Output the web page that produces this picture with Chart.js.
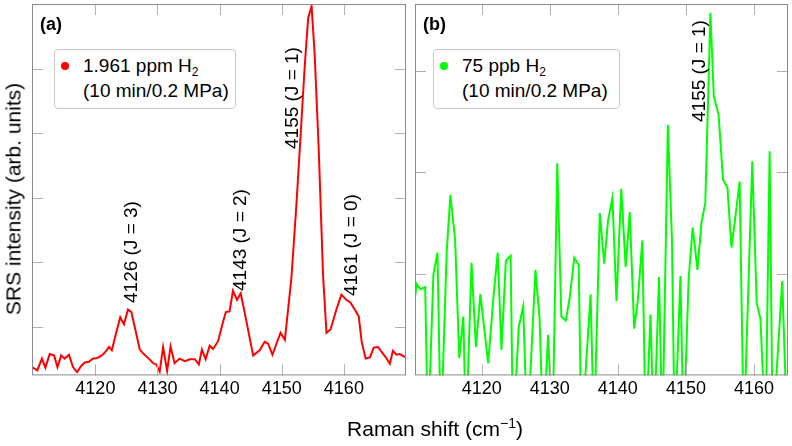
<!DOCTYPE html>
<html>
<head>
<meta charset="utf-8">
<script src="https://cdn.jsdelivr.net/npm/chart.js@4.4.0/dist/chart.umd.min.js"></script>
<style>
body{margin:0;background:#fff;font-family:"Liberation Sans",Arial,sans-serif;}
#wrap{position:relative;width:792px;height:446px;overflow:hidden;background:#fff}
#chartA{position:absolute;left:0;top:0}
#chartB{position:absolute;left:410px;top:0}
.txt{position:absolute;white-space:nowrap;color:#000;line-height:1}
.leyenda{position:absolute;border:1px solid #c8c8c8;border-radius:4px;background:#fff;box-sizing:border-box}
.punto{position:absolute;width:8px;height:8px;border-radius:50%}
.rot{position:absolute;white-space:nowrap;font-size:19px;line-height:20px;transform-origin:0 0;transform:rotate(-90deg) translate(0,-50%)}
sub{font-size:12px;vertical-align:-4px;line-height:0}
sup{font-size:14px;vertical-align:8px;line-height:0}
</style>
</head>
<body>
<div id="wrap">
  <canvas id="chartA" width="410" height="446"></canvas>
  <canvas id="chartB" width="382" height="446"></canvas>

  <div class="txt" style="left:40px;top:15px;font-size:18px;font-weight:bold">(a)</div>
  <div class="txt" style="left:423px;top:15px;font-size:18px;font-weight:bold">(b)</div>

  <div class="leyenda" style="left:54px;top:49px;width:182px;height:60px"></div>
  <div class="punto" style="left:61px;top:62px;background:#ff0000"></div>
  <div class="txt" style="left:83px;top:56px;font-size:19px">1.961 ppm H<sub>2</sub></div>
  <div class="txt" style="left:83px;top:81px;font-size:19px">(10 min/0.2 MPa)</div>

  <div class="leyenda" style="left:433px;top:49px;width:187px;height:60px"></div>
  <div class="punto" style="left:440px;top:62px;background:#00ff00"></div>
  <div class="txt" style="left:462px;top:56px;font-size:19px">75 ppb H<sub>2</sub></div>
  <div class="txt" style="left:462px;top:81px;font-size:19px">(10 min/0.2 MPa)</div>

  <div class="txt" style="left:13px;top:199px;font-size:21px;transform:translate(-50%,-50%) rotate(-90deg)">SRS intensity (arb. units)</div>
  <div class="txt" style="left:435px;top:428px;font-size:21px;transform:translate(-50%,-50%)">Raman shift (cm<sup>−1</sup>)</div>
</div>

<script>
// Marcas del eje x (ambos paneles)
const ticksRaman = [4120, 4130, 4140, 4150, 4160]

// Datos panel (a): 1.961 ppm H2
const ramanA = [4109.8, 4110.66, 4111.4, 4111.95, 4112.65, 4113.35, 4113.9, 4114.5, 4115.05, 4115.75,
  4116.4, 4117.05, 4117.75, 4118.3, 4118.95, 4119.6, 4120.3, 4121.05, 4121.75, 4122.2,
  4122.65, 4123.4, 4124.0, 4124.6, 4125.25, 4125.8, 4126.5, 4127.15, 4127.8, 4128.6,
  4129.3, 4129.8, 4130.35, 4130.9, 4131.55, 4132.1, 4132.75, 4133.55, 4134.4, 4135.2,
  4136.0, 4136.65, 4137.15, 4137.75, 4138.4, 4138.95, 4139.75, 4140.45, 4141.0, 4141.6,
  4142.15, 4142.8, 4143.4, 4144.2, 4145.4, 4146.45, 4147.25, 4147.8, 4148.5, 4149.8,
  4150.5, 4151.55, 4152.35, 4153.0, 4153.7, 4154.25, 4154.8, 4155.3, 4155.95, 4156.65,
  4157.2, 4157.85, 4158.8, 4159.6, 4160.4, 4161.05, 4161.75, 4162.4, 4162.85, 4163.5,
  4164.2, 4164.8, 4165.5, 4166.2, 4166.75, 4167.4, 4167.9, 4168.45, 4169.0, 4169.55, 4170.0]
const intensidadA = [-0.62, -0.67, -0.49, -0.63, -0.42, -0.44, -0.62, -0.44, -0.49, -0.43,
  -0.62, -0.70, -0.60, -0.55, -0.54, -0.49, -0.48, -0.44, -0.37, -0.31,
  -0.36, -0.07, 0.15, 0.04, 0.27, 0.23, -0.07, -0.35, -0.42, -0.49,
  -0.56, -0.58, -0.69, -0.31, -0.68, -0.30, -0.56, -0.49, -0.53, -0.50,
  -0.50, -0.58, -0.35, -0.50, -0.29, -0.34, -0.22, 0.04, 0.23, 0.24,
  0.56, 0.42, 0.52, 0.14, -0.44, -0.36, -0.23, -0.26, -0.43, -0.09,
  -0.20, 0.75, 1.88, 2.91, 4.04, 4.78, 4.97, 4.22, 2.75, 0.80,
  -0.09, -0.04, 0.27, 0.50, 0.42, 0.38, 0.27, 0.16, -0.22, -0.49,
  -0.47, -0.32, -0.31, -0.40, -0.47, -0.57, -0.37, -0.43, -0.42, -0.45, -0.47]

// Datos panel (b): 75 ppb H2
const ramanB = [4110.1, 4110.45, 4111.0, 4111.7, 4112.1, 4112.9, 4113.5, 4114.0, 4114.85, 4115.4,
  4116.1, 4116.7, 4117.3, 4117.7, 4118.5, 4119.15, 4119.8, 4120.95, 4121.7, 4122.35,
  4122.9, 4123.55, 4124.25, 4124.6, 4125.45, 4126.1, 4126.7, 4127.9, 4128.5, 4129.05,
  4129.75, 4130.4, 4131.1, 4131.7, 4132.35, 4132.9, 4133.6, 4134.25, 4134.65, 4136.0,
  4136.5, 4137.35, 4138.0, 4138.55, 4139.2, 4139.8, 4140.5, 4141.15, 4141.75, 4142.4,
  4142.95, 4143.6, 4144.1, 4144.8, 4145.3, 4146.05, 4146.55, 4147.35, 4147.95, 4148.35,
  4149.2, 4149.65, 4150.4, 4151.0, 4151.7, 4152.3, 4152.85, 4153.6, 4154.1, 4154.8,
  4155.45, 4156.1, 4156.7, 4157.3, 4157.9, 4158.5, 4159.75, 4160.4, 4160.95, 4161.7,
  4162.3, 4162.75, 4164.15, 4164.9]
const intensidadB = [0.72, 0.90, 0.85, 0.87, -0.6, 0.99, 1.21, -0.6, 1.21, 1.78,
  1.33, 0.17, 0.58, -0.6, 1.11, 0.28, 0.80, 0.12, 0.75, 1.21,
  0.25, 1.13, 1.18, -0.6, 0.48, 0.68, -0.6, 1.04, 0.56, -0.6,
  0.40, -0.6, 2.09, 0.58, 0.54, 0.75, 1.16, 1.09, -0.6, 0.80,
  -0.6, 1.60, 1.10, 1.52, 1.75, 0.73, 1.84, 1.07, 1.61, 0.46,
  0.75, 1.33, -0.6, 0.60, -0.6, 0.97, -0.6, 2.47, 1.34, -0.6,
  0.98, -0.6, 0.95, 1.46, 1.04, 1.51, 1.70, 3.57, 2.75, 2.57,
  1.93, 1.85, 1.26, 1.58, 1.91, -0.6, 2.11, 0.71, 0.56, -0.6,
  2.21, -0.6, 0.93, -0.6]

// Etiquetas de picos (texto, posicion x, inicio en y)
const picosA = ['4126 (J = 3)', '4143 (J = 2)', '4155 (J = 1)', '4161 (J = 0)']
const picosAx = [4125.8, 4143.2, 4151.6, 4161.1]
const picosAy = [0.37, 0.55, 2.75, 0.48]
const picosB = ['4155 (J = 1)']
const picosBx = [4151.9]
const picosBy = [2.5]

// Marco y ticks interiores
const marco = {
    id: 'marco',
    afterDatasetsDraw(chart) {
        const ctx = chart.ctx
        const a = chart.chartArea
        const sx = chart.scales.x
        const sy = chart.scales.y
        ctx.save()
        ctx.strokeStyle = '#b0b0b0'
        ctx.lineWidth = 1
        const linea = (x1, y1, x2, y2) => {
            ctx.beginPath(); ctx.moveTo(x1, y1); ctx.lineTo(x2, y2); ctx.stroke()
        }
        for (let v = Math.ceil(sx.min / 10) * 10; v <= sx.max; v += 10) {
            const px = Math.round(sx.getPixelForValue(v)) + 0.5
            if (px - a.left < 4 || a.right - px < 4) continue
            linea(px, a.bottom, px, a.bottom - 11)
            linea(px, a.top, px, a.top + 11)
        }
        for (let v = Math.ceil(sy.min); v <= sy.max; v++) {
            const py = Math.round(sy.getPixelForValue(v)) + 0.5
            if (py - a.top < 4 || a.bottom - py < 4) continue
            linea(a.left, py, a.left + 11, py)
            linea(a.right, py, a.right - 11, py)
        }
        ctx.strokeStyle = '#8a8a8a'
        ctx.strokeRect(a.left + 0.5, a.top + 0.5, a.width - 1, a.height - 1)
        ctx.restore()
    }
}

function crearPanel(id, xs, ys, color, etiqueta, xmin, xmax, ymin, ymax, padIzq) {
    const ctx = document.getElementById(id).getContext('2d')
    return new Chart(ctx, {
        type: 'line',
        data: {
            datasets: [{
                label: etiqueta,
                data: xs.map((x, i) => ({x: x, y: ys[i]})),
                borderColor: color,
                backgroundColor: color,
                borderWidth: 2,
                pointRadius: 0,
                tension: 0,
                clip: 0
            }]
        },
        options: {
            responsive: false,
            animation: false,
            layout: { padding: { left: padIzq, right: 4, top: 4, bottom: 43 } },
            plugins: { legend: { display: false }, tooltip: { enabled: false } },
            scales: {
                x: {
                    type: 'linear',
                    min: xmin,
                    max: xmax,
                    grid: { display: false, drawTicks: false },
                    border: { display: false },
                    afterBuildTicks: scale => {
                        scale.ticks = ticksRaman.map(v => ({ value: v }))
                    },
                    ticks: {
                        autoSkip: false,
                        maxRotation: 0,
                        padding: 3,
                        color: '#000',
                        font: { family: '"Liberation Sans", Arial, sans-serif', size: 18 },
                        callback: v => String(v)
                    }
                },
                y: { display: false, min: ymin, max: ymax }
            }
        },
        plugins: [marco]
    })
}

function ponerPicos(chart, offset, textos, xs, ys) {
    const wrap = document.getElementById('wrap')
    textos.forEach((t, i) => {
        const el = document.createElement('div')
        el.className = 'rot'
        el.textContent = t
        el.style.left = (offset + chart.scales.x.getPixelForValue(xs[i])) + 'px'
        el.style.top = chart.scales.y.getPixelForValue(ys[i]) + 'px'
        wrap.appendChild(el)
    })
}

const panelA = crearPanel('chartA', ramanA, intensidadA, '#ff0000', '1.961 ppm H2', 4109.8, 4170, -0.75, 5, 32)
const panelB = crearPanel('chartB', ramanB, intensidadB, '#00ff00', '75 ppb H2', 4110.2, 4165, 0, 3.66, 5)
ponerPicos(panelA, 0, picosA, picosAx, picosAy)
ponerPicos(panelB, 410, picosB, picosBx, picosBy)
</script>
</body>
</html>
